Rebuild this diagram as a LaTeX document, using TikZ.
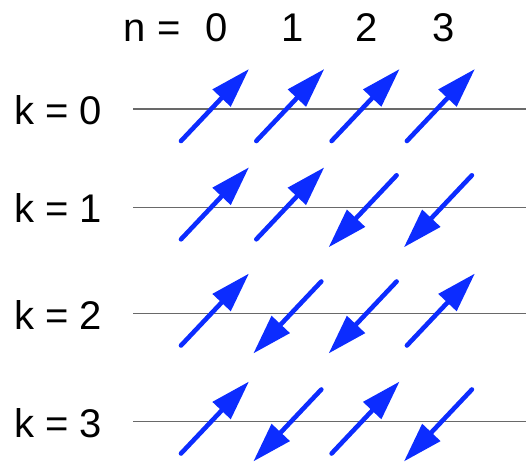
\documentclass[tikz,border=0pt]{standalone}
\usepackage{fontspec}
\setmainfont{Liberation Sans}
\usetikzlibrary{arrows.meta}
\definecolor{spin}{RGB}{12,44,255}
\definecolor{rulegray}{RGB}{105,105,105}
\tikzset{
  spinarrow/.style={draw=spin, line width=4.6pt, line cap=round,
    -{Triangle[length=40pt,width=24pt]}},
  axisline/.style={draw=rulegray, line width=1.3pt},
  klabel/.style={anchor=base west, inner sep=0pt, font=\fontsize{40}{40}\selectfont},
  nlabel/.style={anchor=base, inner sep=0pt, font=\fontsize{40}{40}\selectfont},
}
\begin{document}
\begin{tikzpicture}[x=1pt,y=-1pt]
\useasboundingbox (0,0) rectangle (526,462);
% column headings
\node[nlabel, anchor=base west] (nlab) at (123.5,41.7) {n =};
\foreach \xx/\nn in {216.7/0,292.5/1,366.7/2,444/3}{
  \node[nlabel] (n\nn) at (\xx,41.7) {\nn};
}
% rows
\foreach \L/\k/\pat in {109/0/{1,1,1,1}, 207.3/1/{1,1,-1,-1}, 313.5/2/{1,-1,-1,1}, 421.5/3/{1,-1,1,-1}}{
  \coordinate (ls\k) at (133,\L);
  \coordinate (le\k) at (526,\L);
  \draw[axisline] (ls\k) -- (le\k);
  \node[klabel] (k\k) at (14,\L+15.5) {k = \k};
  \foreach \s [count=\n from 0] in \pat {
    \pgfmathsetmacro\x{215+75.3*\n}
    \ifnum\s=1
      \coordinate (t\k\n) at (\x-34,\L+32);
      \coordinate (h\k\n) at (\x+34,\L-40);
    \else
      \coordinate (t\k\n) at (\x+31,\L-32);
      \coordinate (h\k\n) at (\x-37,\L+40);
    \fi
    \draw[spinarrow] (t\k\n) -- (h\k\n);
  }
}
\end{tikzpicture}
\end{document}
